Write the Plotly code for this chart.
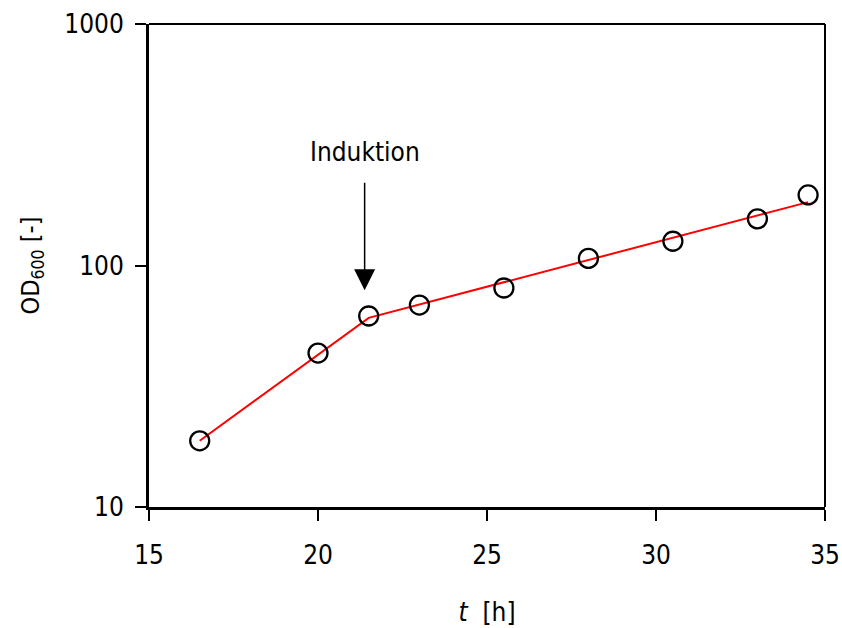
import plotly.graph_objects as go
import math

# data
t_meas = [16.5, 20, 21.5, 23, 25.5, 28, 30.5, 33, 34.5]
od_meas = [18.8, 43.4, 61.8, 68.6, 80.7, 107, 126, 156, 196]
t_fit = [16.5, 21.5, 34.5]
od_fit = [18.8, 60.7, 183]
induction_t = 21.38
induction_od = 79
x_ticks = [15, 20, 25, 30, 35]
y_ticks = [10, 100, 1000]

FONT = "DejaVu Sans Condensed, Liberation Sans Narrow, sans-serif"

fig = go.Figure()
fig.add_trace(go.Scatter(x=t_fit, y=od_fit, mode="lines",
                         line=dict(color="#ff0000", width=2), showlegend=False))
fig.add_trace(go.Scatter(x=t_meas, y=od_meas, mode="markers",
                         marker=dict(symbol="circle-open", size=19, color="black",
                                     line=dict(color="black", width=2.3)),
                         showlegend=False))

fig.add_annotation(x=induction_t, y=math.log10(induction_od), ax=0, ay=-138,
                   xref="x", yref="y", axref="pixel", ayref="pixel",
                   text="Induktion", showarrow=True, arrowhead=2, arrowsize=2.8,
                   arrowwidth=1.5, arrowcolor="black", startstandoff=14,
                   font=dict(family=FONT, size=26, color="black"))

fig.update_layout(
    width=842, height=628,
    margin=dict(l=149, r=17, t=24, b=121, autoexpand=False),
    plot_bgcolor="white", paper_bgcolor="white",
    font=dict(family=FONT, size=26, color="black"),
    xaxis=dict(range=[15, 35], tickvals=x_ticks, ticktext=[str(v) for v in x_ticks],
               showgrid=False, zeroline=False, showline=True, linecolor="black",
               linewidth=3, ticks="outside", ticklen=11, tickwidth=2,
               tickcolor="black", automargin=False, ticklabelstandoff=12,
               title=dict(text="<i>t</i>  [h]", standoff=34,
                          font=dict(family=FONT, size=26))),
    yaxis=dict(type="log", range=[1, 3], tickvals=y_ticks,
               ticktext=[str(v) for v in y_ticks],
               showgrid=False, zeroline=False, showline=True, linecolor="black",
               linewidth=3, ticks="outside", ticklen=11, tickwidth=2,
               tickcolor="black", automargin=False, ticklabelstandoff=6,
               title=dict(text="OD<sub>600</sub> [-]", standoff=18,
                          font=dict(family=FONT, size=25))),
    shapes=[
        dict(type="line", xref="paper", yref="paper", x0=0, x1=1, y0=1, y1=1,
             line=dict(color="black", width=2)),
        dict(type="line", xref="paper", yref="paper", x0=1, x1=1, y0=0, y1=1,
             line=dict(color="black", width=2)),
    ],
)

fig.write_html("out.html")
